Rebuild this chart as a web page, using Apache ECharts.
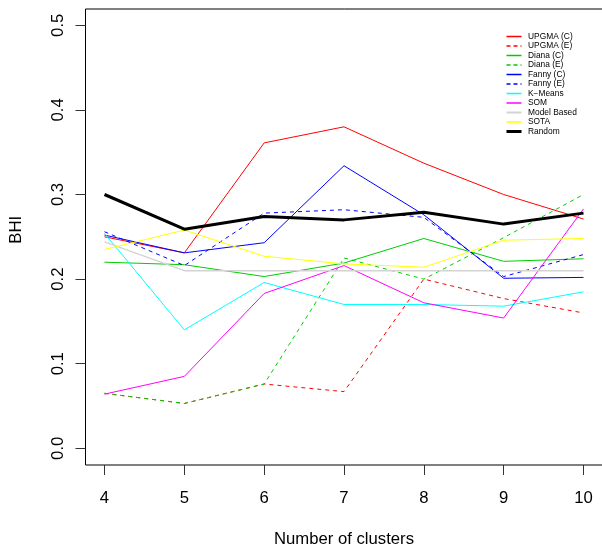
<!DOCTYPE html>
<html>
<head>
<meta charset="utf-8">
<script src="https://cdn.jsdelivr.net/npm/echarts@6/dist/echarts.min.js"></script>
<style>
html,body{margin:0;padding:0;background:#fff;}
#chart{width:602px;height:546px;}
</style>
</head>
<body>
<div id="chart"></div>
<script>
// ---- data ----
var clusters = [4, 5, 6, 7, 8, 9, 10];
var yTicks = [0.0, 0.1, 0.2, 0.3, 0.4, 0.5];
var seriesNames = ['UPGMA (C)', 'UPGMA (E)', 'Diana (C)', 'Diana (E)', 'Fanny (C)', 'Fanny (E)', 'K\u2212Means', 'SOM', 'Model Based', 'SOTA', 'Random'];
var upgmaC  = [0.250, 0.231, 0.361, 0.380, 0.337, 0.300, 0.271];
var upgmaE  = [0.065, 0.053, 0.076, 0.067, 0.200, 0.177, 0.160];
var dianaC  = [0.220, 0.217, 0.203, 0.219, 0.248, 0.221, 0.224];
var dianaE  = [0.065, 0.053, 0.076, 0.225, 0.200, 0.249, 0.300];
var fannyC  = [0.252, 0.231, 0.243, 0.334, 0.276, 0.201, 0.202];
var fannyE  = [0.256, 0.216, 0.278, 0.282, 0.273, 0.203, 0.229];
var kmeans  = [0.254, 0.140, 0.196, 0.170, 0.170, 0.168, 0.185];
var som     = [0.064, 0.085, 0.183, 0.216, 0.172, 0.154, 0.283];
var modelB  = [0.244, 0.210, 0.210, 0.210, 0.210, 0.210, 0.210];
var sota    = [0.235, 0.258, 0.227, 0.218, 0.214, 0.246, 0.248];
var randomB = [0.300, 0.259, 0.274, 0.270, 0.279, 0.265, 0.278];

var values = [upgmaC, upgmaE, dianaC, dianaE, fannyC, fannyE, kmeans, som, modelB, sota, randomB];
var colors = ['#FF0000', '#FF0000', '#00CD00', '#00CD00', '#0000FF', '#0000FF', '#00FFFF', '#FF00FF', '#D3D3D3', '#FFFF00', '#000000'];
var dashed = [false, true, false, true, false, true, false, false, false, false, false];
var widths = [1, 1, 1, 1, 1, 1, 1, 1, 1.5, 1, 3];
var legendWidths = [1.5, 1.5, 1.5, 1.5, 1.5, 1.5, 1.5, 1.5, 2, 1.5, 3];

var FONT = 'Liberation Sans';

var series = values.map(function (vals, k) {
  return {
    name: seriesNames[k],
    type: 'line',
    xAxisIndex: 1,
    yAxisIndex: 1,
    symbol: 'none',
    silent: true,
    data: clusters.map(function (c, i) { return [c, vals[i]]; }),
    lineStyle: { color: colors[k], width: widths[k], type: dashed[k] ? [4, 4] : 'solid' },
    itemStyle: { color: colors[k] }
  };
});

var legendData = seriesNames.map(function (n, k) {
  return { name: n, lineStyle: { color: colors[k], width: legendWidths[k], type: dashed[k] ? [4, 3] : 'solid' } };
});

var chart = echarts.init(document.getElementById('chart'), null, { renderer: 'canvas' });
chart.setOption({
  animation: false,
  backgroundColor: '#fff',
  grid: [
    { left: 85.5, top: 9, width: 518, bottom: 81, show: true, borderColor: '#000', borderWidth: 1, backgroundColor: 'transparent', outerBoundsMode: 'none', containLabel: false },
    { left: 104.5, right: 18.5, top: 25.3, bottom: 97.7, outerBoundsMode: 'none', containLabel: false },
    { left: 104.5, right: 18.5, top: 9, bottom: 81, outerBoundsMode: 'none', containLabel: false }
  ],
  xAxis: [
    { gridIndex: 0, type: 'value', show: false, min: 0, max: 1 },
    { gridIndex: 1, type: 'value', show: false, min: clusters[0], max: clusters[clusters.length - 1] },
    {
      gridIndex: 2, type: 'value', min: clusters[0], max: clusters[clusters.length - 1], interval: 1,
      name: 'Number of clusters', nameLocation: 'middle', nameGap: 66, nameMoveOverlap: false,
      nameTextStyle: { fontFamily: FONT, fontSize: 16.7, lineHeight: 16, color: '#000' },
      axisLine: { show: false, onZero: false },
      axisTick: { show: true, length: 10, lineStyle: { color: '#333', width: 1 } },
      axisLabel: { margin: 25, fontFamily: FONT, fontSize: 16.7, lineHeight: 16, color: '#000' },
      splitLine: { show: false }
    }
  ],
  yAxis: [
    { gridIndex: 0, type: 'value', show: false, min: 0, max: 1 },
    {
      gridIndex: 1, type: 'value', min: yTicks[0], max: yTicks[yTicks.length - 1], interval: 0.1, offset: 19,
      name: 'BHI', nameLocation: 'middle', nameGap: 61, nameRotate: 90, nameMoveOverlap: false,
      nameTextStyle: { fontFamily: FONT, fontSize: 16.7, color: '#000', padding: [0, 0, 0, 14] },
      axisLine: { show: false, onZero: false },
      axisTick: { show: true, length: 10, lineStyle: { color: '#333', width: 1 } },
      axisLabel: { margin: 19, rotate: 90, fontFamily: FONT, fontSize: 16.7, color: '#000',
        formatter: function (v) { return v.toFixed(1); } },
      splitLine: { show: false }
    },
    { gridIndex: 2, type: 'value', show: false, min: 0, max: 1 }
  ],
  legend: {
    data: legendData,
    orient: 'vertical',
    left: 505,
    top: 32,
    padding: 0,
    itemWidth: 15,
    itemHeight: 9,
    itemGap: 0.5,
    itemStyle: { opacity: 0 },
    textStyle: { fontFamily: FONT, fontSize: 8.4, color: '#000', lineHeight: 9, padding: [0, 0, 0, 1.5] },
    selectedMode: false
  },
  series: series
});
</script>
</body>
</html>
